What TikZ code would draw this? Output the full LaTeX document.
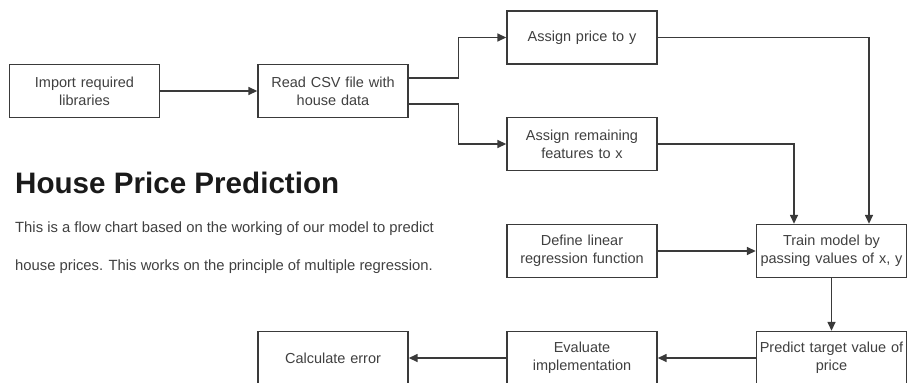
\documentclass[tikz,border=0pt]{standalone}
\usepackage{fontspec}
\setmainfont{Liberation Sans}
\usetikzlibrary{arrows.meta, positioning, calc}
\definecolor{hline}{HTML}{3A3A3A}
\definecolor{htext}{HTML}{404040}
\definecolor{htitle}{HTML}{1A1A1A}
\tikzset{
  fbox/.style={draw=hline, line width=1.4pt, fill=white, minimum width=150pt,
               minimum height=53pt, text width=148pt, align=center, inner sep=0pt,
               text=htext, font=\fontsize{14.5}{18}\selectfont},
  arr/.style={-{Triangle[length=9pt,width=8pt]}, line width=1.5pt, hline},
  note/.style={anchor=base west, inner sep=0pt, text=htext,
               font=\fontsize{14.8}{17}\selectfont},
}
\begin{document}
\begin{tikzpicture}[x=1pt, y=-1pt]
  \useasboundingbox (0,0) rectangle (908,383);
  \clip (0,0) rectangle (908,383);

  % boxes
  \node[fbox] (imp) at (84.5,91) {Import required\\libraries};
  \node[fbox] (read) at (333,91) {Read CSV file with\\house data};
  \node[fbox] (asy) at (582,37.5) {Assign price to y};
  \node[fbox] (asx) at (582,144) {Assign remaining\\features to x};
  \node[fbox] (deflin) at (582,251) {Define linear\\regression function};
  \node[fbox] (train) at (831.5,251) {Train model by\\passing values of x, y};
  \node[fbox] (pred) at (831.5,358) {Predict target value of\\price};
  \node[fbox] (eval) at (582,358) {Evaluate\\implementation};
  \node[fbox] (calc) at (333,358) {Calculate error};

  % heading and description
  \node[anchor=base west, inner sep=0pt, text=htitle,
        font=\fontsize{29.6}{34}\selectfont\bfseries] (title) at (15,193)
    {House Price Prediction};
  \node[note] (desc1) at (15,232)
    {This is a flow chart based on the working of our model to predict};
  \node[note] (desc2) at (15,270)
    {house prices. This works on the principle of multiple regression.};

  % connectors
  \draw[arr] (imp) -- (read);
  \draw[arr] ([yshift=13pt]read.east) -- ++(50,0) |- (asy.west);
  \draw[arr] ([yshift=-13pt]read.east) -- ++(50,0) |- (asx.west);
  \draw[arr] (asy.east) -| ([xshift=37.5pt]train.north);
  \draw[arr] (asx.east) -| ([xshift=-37.5pt]train.north);
  \draw[arr] (deflin) -- (train);
  \draw[arr] (train) -- (pred);
  \draw[arr] (pred) -- (eval);
  \draw[arr] (eval) -- (calc);
\end{tikzpicture}
\end{document}
